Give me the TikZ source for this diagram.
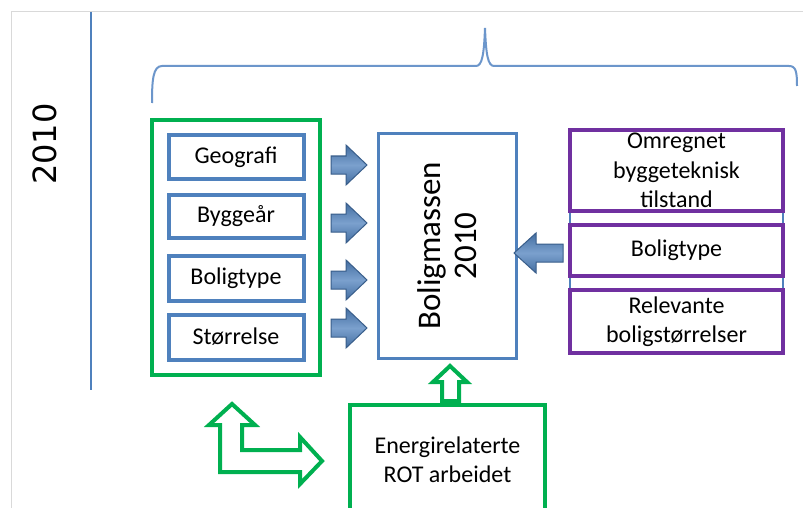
\documentclass[tikz,border=0pt]{standalone}
\usepackage{fontspec}
\setmainfont{Carlito}
\newfontfamily\dejavu{DejaVu Sans}
\usetikzlibrary{calc}
\definecolor{boxblue}{RGB}{79,129,189}
\definecolor{darkblue}{RGB}{56,93,138}
\definecolor{gbox}{RGB}{0,176,80}
\definecolor{pbox}{RGB}{112,48,160}
\definecolor{bracec}{RGB}{108,150,203}
\definecolor{framec}{RGB}{217,217,217}
\newcommand\rblock[1]{\draw[blockarrow] ($(#1)+(-36,-9)$) -- ($(#1)+(-21,-9)$) -- ($(#1)+(-21,-20)$) -- (#1) -- ($(#1)+(-21,20)$) -- ($(#1)+(-21,9)$) -- ($(#1)+(-36,9)$) -- cycle;}
\begin{document}
\begin{tikzpicture}[x=1pt,y=-1pt,
  txt/.style={font=\fontsize{24}{29.5}\selectfont,align=center,text=black},
  bluebox/.style={txt,draw=boxblue,line width=4pt,fill=white,minimum width=135pt,minimum height=43pt,inner sep=0pt},
  greenbox/.style={draw=gbox,line width=4.5pt,fill=white,inner sep=0pt},
  purplebox/.style={txt,draw=pbox,line width=4pt,fill=white,minimum width=213pt,inner sep=0pt},
  massbox/.style={draw=boxblue,line width=3pt,fill=white,minimum width=138pt,minimum height=225pt,inner sep=0pt},
  blockarrow/.style={top color=boxblue!85!black,bottom color=boxblue!85!black,middle color=boxblue!75!white,draw=darkblue,line width=1pt,line join=miter},
  greenarrow/.style={draw=gbox,line width=4pt,fill=white,line join=miter},
  bracestyle/.style={draw=bracec,line width=2pt},
]
\clip (0,0) rectangle (803,508);
\fill[white] (0,0) rectangle (803,508);
% frame
\draw[framec,line width=1pt] (11,508) -- (11,12) -- (803,12);
% vertical line
\draw[boxblue,line width=2pt] (91,12) -- (91,390);
% year label
\node[rotate=90,font=\dejavu\fontsize{32}{38}\selectfont] (year) at (45,144) {2010};
% brace
\draw[bracestyle] (152,103) .. controls (152,80) and (153,66) .. (162,66) -- (476,66)
  .. controls (482,66) and (484,55) .. (485,28)
  .. controls (486,55) and (488,66) .. (494,66) -- (789,66)
  .. controls (796,66) and (797,72) .. (797,86);
% left group
\node[greenbox,minimum width=168pt,minimum height=255pt] (grp) at (236,247.5) {};
\node[bluebox] (geo) at (236,157) {Geografi};
\node[bluebox] (bygg) at (236,216) {Byggeår};
\node[bluebox,minimum height=45pt] (btype) at (236,278) {Boligtype};
\node[bluebox,minimum height=45pt] (storr) at (236,337) {Størrelse};
% central box
\node[massbox] (mass) at (447.5,246) {};
\node[txt,rotate=90,font=\fontsize{33}{36}\selectfont] (masstxt) at (mass.center) {Boligmassen\\2010};
% right group
\draw[boxblue,line width=1.5pt] (570,130) rectangle (783,353);
\node[purplebox,minimum height=81pt] (p1) at (676.5,170.5) {Omregnet\\byggeteknisk\\tilstand};
\node[purplebox,minimum height=51pt] (p2) at (676.5,250.5) {Boligtype};
\node[purplebox,minimum height=63pt] (p3) at (676.5,321.5) {Relevante\\boligstørrelser};
% bottom box
\node[greenbox,txt,minimum width=195pt,minimum height=110pt] (rot) at (447.5,460) {Energirelaterte\\ROT arbeidet};
% blue block arrows
\coordinate (a1) at (367,165);
\coordinate (a2) at (367,223);
\coordinate (a3) at (367,280);
\coordinate (a4) at (367,328);
\rblock{a1}\rblock{a2}\rblock{a3}\rblock{a4}
\coordinate (a5) at (514,253);
\draw[blockarrow] (a5) -- ($(a5)+(22,-20)$) -- ($(a5)+(22,-9)$) -- ($(a5)+(49,-9)$) -- ($(a5)+(49,9)$) -- ($(a5)+(22,9)$) -- ($(a5)+(22,20)$) -- cycle;
% green up arrow into mass
\coordinate (u1) at (450,366);
\draw[greenarrow] (u1) -- ($(u1)+(17,16)$) -- ($(u1)+(9,16)$) -- ($(u1)+(9,35)$) -- ($(u1)+(-8,35)$) -- ($(u1)+(-8,16)$) -- ($(u1)+(-17,16)$) -- cycle;
% bent double arrow
\coordinate (b1) at (232,404);
\coordinate (b2) at (322,461);
\draw[greenarrow] (b1) -- (255,425) -- (242,425) -- (242,450) -- (300,450) -- (300,437) -- (b2)
  -- (300,484) -- (300,472) -- (220,472) -- (220,425) -- (209,425) -- cycle;
\end{tikzpicture}
\end{document}
